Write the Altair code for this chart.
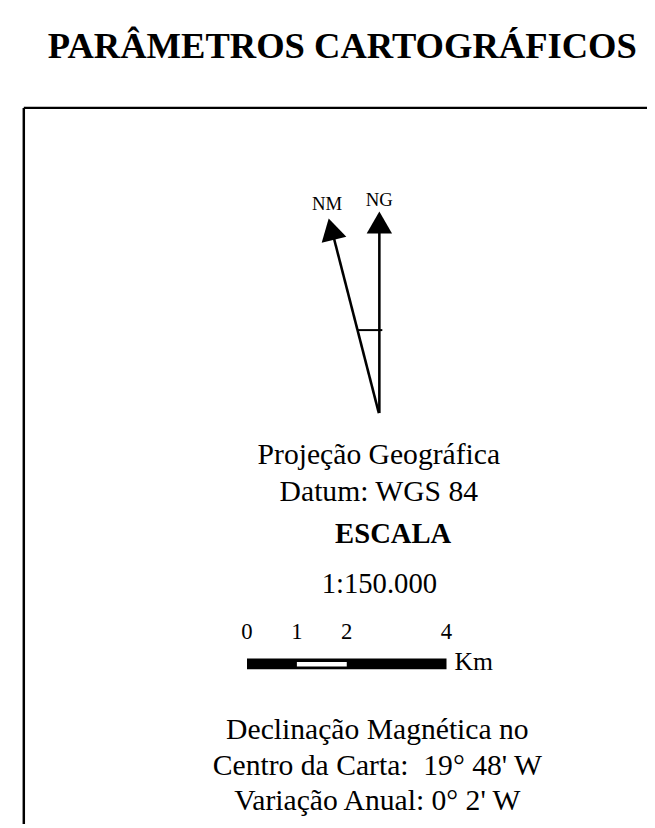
import altair as alt
import pandas as pd

# ---------------- content ----------------
TITLE = "PARÂMETROS CARTOGRÁFICOS"
NORTH_LABELS = ["NM", "NG"]
PROJECTION_LINES = ["Projeção Geográfica", "Datum: WGS 84"]
SCALE_HEADER = "ESCALA"
SCALE_RATIO = "1:150.000"
SCALE_TICKS_KM = [0, 1, 2, 4]
SCALE_TICK_LABELS = ["0", "1", "2", "4"]
SCALE_UNIT = "Km"
SEG_START_KM = [0, 1, 2]
SEG_END_KM = [1, 2, 4]
SEG_FILL = ["black", "white", "black"]
DECLINATION_LINES = [
    "Declinação Magnética no",
    "Centro da Carta:\u00a0 19° 48' W",
    "Variação Anual: 0° 2' W",
]

# ---------------- layout ----------------
FONT = "Liberation Serif"
W, H = 647, 820
XS = alt.Scale(domain=[8, 655])
YS = alt.Scale(domain=[8, 828], reverse=True)
KM = alt.Scale(domain=[0, 4], range=[242, 444])  # scale-bar km -> px


def text_layer(texts, xs, ys, size, weight="normal", align="center", xscale=XS):
    df = pd.DataFrame({"t": texts, "x": xs, "y": ys})
    return alt.Chart(df).mark_text(
        font=FONT, fontSize=size, fontWeight=weight, align=align,
        baseline="alphabetic", color="black",
    ).encode(
        x=alt.X("x:Q", scale=xscale, axis=None),
        y=alt.Y("y:Q", scale=YS, axis=None),
        text="t:N",
    )


def segs(x1, y1, x2, y2, width):
    df = pd.DataFrame({"x": x1, "y": y1, "x2": x2, "y2": y2})
    return alt.Chart(df).mark_rule(color="black", strokeWidth=width).encode(
        x=alt.X("x:Q", scale=XS, axis=None),
        y=alt.Y("y:Q", scale=YS, axis=None),
        x2="x2:Q",
        y2="y2:Q",
    )


title = text_layer([TITLE], [346.5], [53], 37, "bold")
frame = segs([24, 24], [104, 104], [24, 656], [829, 104], 2.5)

arrows = segs([384, 338], [230, 236], [384, 383.5], [413, 413], 2.6)
crossbar = segs([362], [329], [387], [329], 2)
heads_df = pd.DataFrame({"x": [384, 335.4], "y": [220, 226.7], "a": [0, 346]})
heads = alt.Chart(heads_df).mark_point(
    shape="triangle-up", filled=True, size=660, color="black", opacity=1
).encode(
    x=alt.X("x:Q", scale=XS, axis=None),
    y=alt.Y("y:Q", scale=YS, axis=None),
    angle=alt.Angle("a:Q", scale=None),
)
north_text = text_layer(NORTH_LABELS, [331, 384], [207, 203], 19)

proj = text_layer(PROJECTION_LINES, [383.5, 383.5], [465, 502], 30)
esc = text_layer([SCALE_HEADER], [398], [545], 29, "bold")
ratio = text_layer([SCALE_RATIO], [384], [595], 29)

bar_df = pd.DataFrame({"x": [SEG_START_KM[0]], "x2": [SEG_END_KM[-1]], "y": [661.5], "y2": [672.5]})
bar = alt.Chart(bar_df).mark_rect(color="black").encode(
    x=alt.X("x:Q", scale=KM, axis=None), x2="x2:Q",
    y=alt.Y("y:Q", scale=YS, axis=None), y2="y2:Q",
)
white_df = pd.DataFrame({
    "x": [s for s, f in zip(SEG_START_KM, SEG_FILL) if f == "white"],
    "x2": [e for e, f in zip(SEG_END_KM, SEG_FILL) if f == "white"],
})
white_df["y"] = 665
white_df["y2"] = 669.5
white = alt.Chart(white_df).mark_rect(color="white").encode(
    x=alt.X("x:Q", scale=KM, axis=None), x2="x2:Q",
    y=alt.Y("y:Q", scale=YS, axis=None), y2="y2:Q",
)
tick_labels = text_layer(SCALE_TICK_LABELS, SCALE_TICKS_KM, [642] * 4, 23, xscale=KM)
unit = text_layer([SCALE_UNIT], [460], [673], 26, align="left")

decl = text_layer(DECLINATION_LINES, [382, 382, 382], [743, 779, 815], 30)

chart = alt.layer(
    frame, title, arrows, crossbar, heads, north_text, proj, esc, ratio,
    bar, white, tick_labels, unit, decl,
).resolve_scale(x="independent").properties(
    width=W, height=H, autosize=alt.AutoSizeParams(type="none"), padding=0,
    background="white",
).configure_view(stroke=None)

chart.save("out.html", embed_options={"renderer": "svg", "actions": False})
